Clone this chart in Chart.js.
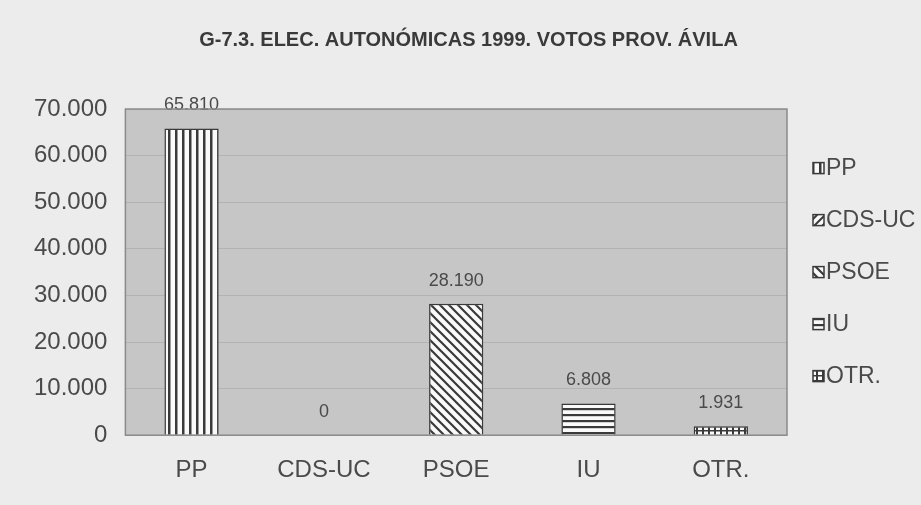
<!DOCTYPE html>
<html lang="es">
<head>
    <meta charset="UTF-8">
    <title>G-7.3. Elec. Autonómicas 1999. Votos Prov. Ávila</title>
    <script src="https://cdn.jsdelivr.net/npm/chart.js"></script>
    <style>
        html, body {
            margin: 0;
            padding: 0;
            background: #ececec;
        }
        .chart-box {
            width: 921px;
            height: 505px;
        }
    </style>
</head>
<body>
<div class="chart-box">
    <canvas id="votosChart"></canvas>
</div>

<script>
    // Datos
    const partidos = ["PP", "CDS-UC", "PSOE", "IU", "OTR."];
    const votos = [65810, 0, 28190, 6808, 1931];
    const yTicks = [0, 10000, 20000, 30000, 40000, 50000, 60000, 70000];
    const titulo = "G-7.3. ELEC. AUTONÓMICAS 1999. VOTOS PROV. ÁVILA";

    const FONT = "'Liberation Sans', Arial, sans-serif";
    const INK = "#3a3a3a";
    const TEXT = "#4a4a4a";

    // separador de miles con punto
    function fmt(v) {
        return String(v).replace(/\B(?=(\d{3})+(?!\d))/g, ".");
    }

    // Tramas en blanco y negro para cada barra
    function makePattern(kind) {
        const c = document.createElement("canvas");
        const ctx = c.getContext("2d");
        if (kind === "vert") {
            c.width = 7; c.height = 7;
            ctx.fillStyle = "#fafafa"; ctx.fillRect(0, 0, 7, 7);
            ctx.fillStyle = INK; ctx.fillRect(0, 0, 2.5, 7);
        } else if (kind === "diagUp") {
            c.width = 8; c.height = 8;
            ctx.fillStyle = "#fafafa"; ctx.fillRect(0, 0, 8, 8);
            ctx.strokeStyle = INK; ctx.lineWidth = 2;
            ctx.beginPath();
            ctx.moveTo(0, 8); ctx.lineTo(8, 0);
            ctx.moveTo(-2, 2); ctx.lineTo(2, -2);
            ctx.moveTo(6, 10); ctx.lineTo(10, 6);
            ctx.stroke();
        } else if (kind === "diagDown") {
            c.width = 9; c.height = 9;
            ctx.fillStyle = "#fafafa"; ctx.fillRect(0, 0, 9, 9);
            ctx.strokeStyle = INK; ctx.lineWidth = 2.2;
            ctx.beginPath();
            ctx.moveTo(0, 0); ctx.lineTo(9, 9);
            ctx.moveTo(-2, 7); ctx.lineTo(2, 11);
            ctx.moveTo(7, -2); ctx.lineTo(11, 2);
            ctx.stroke();
        } else if (kind === "horiz") {
            c.width = 6; c.height = 6;
            ctx.fillStyle = "#fafafa"; ctx.fillRect(0, 0, 6, 6);
            ctx.fillStyle = INK; ctx.fillRect(0, 0, 6, 2.2);
        } else {
            c.width = 6; c.height = 5;
            ctx.fillStyle = "#fafafa"; ctx.fillRect(0, 0, 6, 5);
            ctx.fillStyle = INK;
            ctx.fillRect(0, 0, 2, 5);
            ctx.fillRect(0, 0, 6, 1.5);
        }
        return ctx.createPattern(c, "repeat");
    }

    const tramas = [
        makePattern("vert"),
        makePattern("diagUp"),
        makePattern("diagDown"),
        makePattern("horiz"),
        makePattern("grid")
    ];

    // fondo gris, marco, título y leyenda
    const decor = {
        id: "decor",
        beforeDraw(chart) {
            const { ctx, chartArea: a } = chart;
            ctx.save();
            ctx.fillStyle = "#c6c6c6";
            ctx.fillRect(a.left, a.top, a.right - a.left, a.bottom - a.top);
            ctx.restore();
        },
        afterDraw(chart) {
            const { ctx, chartArea: a } = chart;
            ctx.save();
            ctx.strokeStyle = "#8a8a8a";
            ctx.lineWidth = 1.5;
            ctx.strokeRect(a.left, a.top, a.right - a.left, a.bottom - a.top);

            // título
            ctx.fillStyle = INK;
            ctx.font = "bold 20px " + FONT;
            ctx.textAlign = "center";
            ctx.textBaseline = "middle";
            ctx.fillText(titulo, chart.width / 2 + 8, 40);

            // leyenda a la derecha, centrada en el área de trazado
            const midY = (a.top + a.bottom) / 2;
            const x0 = a.right + 26;
            ctx.font = "23px " + FONT;
            ctx.textAlign = "left";
            partidos.forEach((p, i) => {
                const cy = midY + (i - 2) * 52;
                ctx.fillStyle = tramas[i];
                ctx.fillRect(x0, cy - 5.5, 11, 11);
                ctx.strokeStyle = INK;
                ctx.lineWidth = 1.5;
                ctx.strokeRect(x0, cy - 5.5, 11, 11);
                ctx.fillStyle = TEXT;
                ctx.fillText(p, x0 + 13, cy + 1);
            });
            ctx.restore();
        }
    };

    // etiquetas de valor sobre las barras
    const valueLabels = {
        id: "valueLabels",
        afterDatasetsDraw(chart) {
            const ctx = chart.ctx;
            const meta = chart.getDatasetMeta(0);
            ctx.save();
            ctx.font = "18px " + FONT;
            ctx.fillStyle = TEXT;
            ctx.textAlign = "center";
            ctx.textBaseline = "middle";
            meta.data.forEach((bar, i) => {
                ctx.fillText(fmt(votos[i]), bar.x, bar.y - 23);
            });
            ctx.restore();
        }
    };

    new Chart(document.getElementById("votosChart"), {
        type: "bar",
        data: {
            labels: partidos,
            datasets: [{
                data: votos,
                backgroundColor: tramas,
                borderColor: INK,
                borderWidth: 1.5,
                barPercentage: 0.41,
                categoryPercentage: 1
            }]
        },
        options: {
            responsive: true,
            maintainAspectRatio: false,
            animation: false,
            layout: {
                padding: { left: 16, right: 134, top: 109, bottom: 0 }
            },
            scales: {
                y: {
                    min: 0,
                    max: 70000,
                    afterBuildTicks(axis) {
                        axis.ticks = yTicks.map(v => ({ value: v }));
                    },
                    ticks: {
                        callback: v => fmt(v),
                        color: TEXT,
                        padding: 18,
                        font: { size: 24, family: FONT }
                    },
                    grid: {
                        color: "#b3b3b3",
                        lineWidth: 1,
                        drawTicks: false
                    },
                    border: { display: false }
                },
                x: {
                    grid: { display: false, drawTicks: false },
                    border: { display: false },
                    ticks: {
                        color: TEXT,
                        padding: 20.5,
                        font: { size: 24, family: FONT }
                    }
                }
            },
            plugins: {
                legend: { display: false },
                tooltip: { enabled: false }
            }
        },
        plugins: [decor, valueLabels]
    });
</script>
</body>
</html>
